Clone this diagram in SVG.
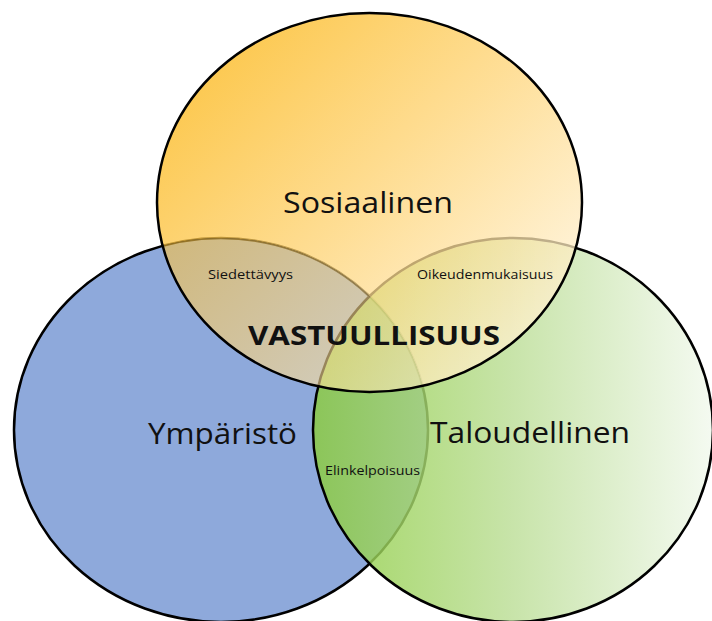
<svg xmlns="http://www.w3.org/2000/svg" width="712" height="621" viewBox="0 0 712 621">
<defs>
<linearGradient id="gOrange" gradientUnits="userSpaceOnUse" x1="200" y1="40" x2="540" y2="370">
<stop offset="0" stop-color="#FBB30B"/>
<stop offset="0.5" stop-color="#FED373"/>
<stop offset="1" stop-color="#FFF5DF"/>
</linearGradient>
<linearGradient id="gGreen" gradientUnits="userSpaceOnUse" x1="313" y1="0" x2="713" y2="0">
<stop offset="0" stop-color="#8BCC3C"/>
<stop offset="0.5" stop-color="#BCDE97"/>
<stop offset="1" stop-color="#F2F9EE"/>
</linearGradient>
<clipPath id="inBlue">
<ellipse cx="221" cy="430" rx="207" ry="192"/>
</clipPath>
<mask id="outBlue" maskUnits="userSpaceOnUse" x="0" y="0" width="712" height="621">
<rect x="0" y="0" width="712" height="621" fill="#fff"/>
<ellipse cx="221" cy="430" rx="207" ry="192" fill="#000"/>
</mask>
</defs>
<style>
.ring{stroke:#000;stroke-width:2.5}
.big{font-family:"Open Sans","Liberation Sans",sans-serif;font-size:29px;fill:#111}
.bold{font-family:"Open Sans","Liberation Sans",sans-serif;font-size:27px;font-weight:bold;fill:#111}
.small{font-family:"Open Sans","Liberation Sans",sans-serif;font-size:12px;fill:#111}
</style>
<g id="ymparisto">
<ellipse class="ring" cx="221" cy="430" rx="207" ry="192" fill="#8EA9DB"/>
</g>
<g id="taloudellinen">
<ellipse class="ring" cx="513" cy="430" rx="200" ry="192" fill="url(#gGreen)" fill-opacity="0.82"/>
</g>
<g id="sosiaalinen">
<ellipse cx="369.5" cy="202.5" rx="212.5" ry="189.5" fill="url(#gOrange)" fill-opacity="0.75" mask="url(#outBlue)"/>
<ellipse cx="369.5" cy="202.5" rx="212.5" ry="189.5" fill="url(#gOrange)" fill-opacity="0.6" clip-path="url(#inBlue)"/>
<ellipse class="ring" cx="369.5" cy="202.5" rx="212.5" ry="189.5" fill="none"/>
</g>
<g id="connectors"/>
<g id="labels">
<text class="big" x="283" y="213" textLength="170" lengthAdjust="spacingAndGlyphs">Sosiaalinen</text>
<text class="big" x="148" y="444" textLength="149" lengthAdjust="spacingAndGlyphs">Ympäristö</text>
<text class="big" x="430" y="443" textLength="200" lengthAdjust="spacingAndGlyphs">Taloudellinen</text>
<text class="bold" x="248" y="345" textLength="252" lengthAdjust="spacingAndGlyphs">VASTUULLISUUS</text>
<text class="small" x="208" y="279" textLength="85" lengthAdjust="spacingAndGlyphs">Siedettävyys</text>
<text class="small" x="417" y="279" textLength="136" lengthAdjust="spacingAndGlyphs">Oikeudenmukaisuus</text>
<text class="small" x="325" y="475" textLength="95" lengthAdjust="spacingAndGlyphs">Elinkelpoisuus</text>
</g>
</svg>
